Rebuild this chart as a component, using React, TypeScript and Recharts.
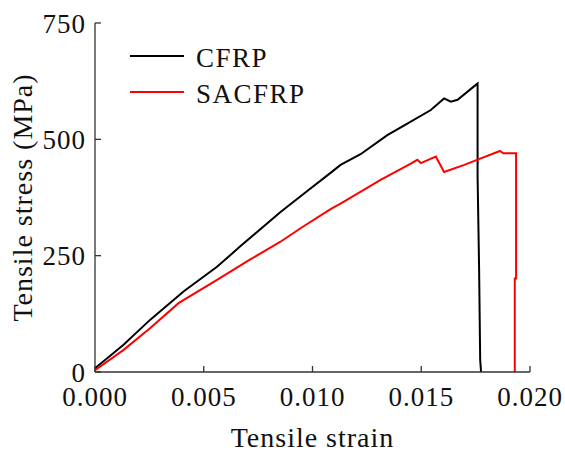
import React from 'react';
import { LineChart, Line, XAxis, YAxis } from 'recharts';

const strainTicks = [0, 0.005, 0.01, 0.015, 0.02];
const stressTicks = [0, 250, 500, 750];

const cfrpStrain = [0, 0.0013, 0.00253, 0.00407, 0.00561, 0.00668, 0.00853, 0.00976, 0.01083, 0.01129, 0.01221, 0.01344, 0.01436, 0.01544, 0.01605, 0.01636, 0.01667, 0.01751, 0.01759, 0.01759, 0.01766, 0.01771, 0.01775];
const cfrpStress = [8, 58, 112, 173, 226, 270, 344, 389, 428, 445, 468, 509, 534, 563, 588, 581, 585, 617, 620, 420, 222, 26, 0];

const sacStrain = [0, 0.0013, 0.00253, 0.00384, 0.00561, 0.00714, 0.00853, 0.00945, 0.01083, 0.01129, 0.01313, 0.01452, 0.01482, 0.01498, 0.01567, 0.01605, 0.01698, 0.01774, 0.01862, 0.01877, 0.01936, 0.01936, 0.0193, 0.0193];
const sacStress = [4, 47, 94, 148, 198, 242, 280, 309, 350, 362, 413, 448, 456, 449, 463, 430, 445, 459, 475, 470, 470, 201, 201, 0];

const cfrp = cfrpStrain.map((x, i) => ({ x, y: cfrpStress[i] }));
const sacfrp = sacStrain.map((x, i) => ({ x, y: sacStress[i] }));

const font = '"Liberation Serif", "Times New Roman", serif';
const axisColor = '#333';

const LegendBox = () => (
  <div style={{ position: 'absolute', left: 130, top: 38, fontFamily: font, fontSize: 27, letterSpacing: 1.5, color: '#111' }}>
    {[
      { name: 'CFRP', color: '#000' },
      { name: 'SACFRP', color: '#ff0000' },
    ].map((it) => (
      <div key={it.name} style={{ display: 'flex', alignItems: 'center', height: 36 }}>
        <div style={{ width: 54, height: 2.5, background: it.color, marginRight: 12 }} />
        <span style={{ lineHeight: '36px', marginTop: 4 }}>{it.name}</span>
      </div>
    ))}
  </div>
);

export default function App() {
  return (
    <div style={{ position: 'absolute', left: 0, top: 0, width: 565, height: 454, background: '#fff' }}>
      <LineChart width={565} height={454} margin={{ top: 23, right: 35, bottom: 0, left: 0 }}>
        <XAxis
          xAxisId="b"
          type="number"
          dataKey="x"
          domain={[0, 0.02]}
          ticks={strainTicks}
          tickFormatter={(v: number) => v.toFixed(3)}
          allowDataOverflow
          height={82}
          tickSize={-6}
          tickMargin={21}
          stroke={axisColor}
          strokeWidth={1.3}
          tick={{ fill: '#111', fontSize: 27, fontFamily: font, letterSpacing: 1 }}
          label={{ value: 'Tensile strain', position: 'insideBottom', offset: 7, fill: '#111', fontSize: 28, fontFamily: font, letterSpacing: 1 }}
        />
        <XAxis xAxisId="t" orientation="top" type="number" dataKey="x" domain={[0, 0.02]} height={0} tick={false} tickLine={false} stroke={axisColor} strokeWidth={1.3} />
        <YAxis
          yAxisId="l"
          type="number"
          dataKey="y"
          domain={[0, 750]}
          ticks={stressTicks}
          width={95}
          tickSize={-6}
          tickMargin={15}
          stroke={axisColor}
          strokeWidth={1.3}
          tick={{ fill: '#111', fontSize: 27, fontFamily: font, letterSpacing: 1 }}
          label={{ value: 'Tensile stress (MPa)', angle: -90, position: 'insideLeft', offset: 22, fill: '#111', fontSize: 28, fontFamily: font, letterSpacing: 1, style: { textAnchor: 'middle' } }}
        />
        <YAxis yAxisId="r" orientation="right" type="number" domain={[0, 750]} width={0} tick={false} tickLine={false} stroke={axisColor} strokeWidth={1.3} />
        <Line xAxisId="b" yAxisId="l" data={cfrp} dataKey="y" type="linear" stroke="#000" strokeWidth={2} dot={false} isAnimationActive={false} />
        <Line xAxisId="b" yAxisId="l" data={sacfrp} dataKey="y" type="linear" stroke="#ff0000" strokeWidth={2} dot={false} isAnimationActive={false} />
      </LineChart>
      <LegendBox />
    </div>
  );
}
